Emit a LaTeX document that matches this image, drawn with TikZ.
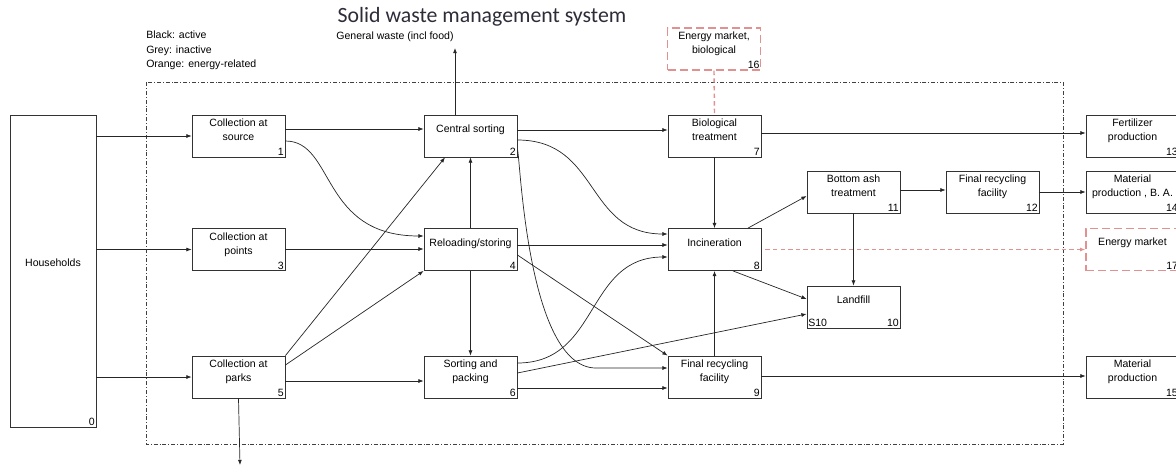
\documentclass[tikz,border=0pt]{standalone}
\usepackage{fontspec}
\setmainfont{Liberation Sans}
\newfontfamily\titlefont{Carlito}
\usetikzlibrary{arrows.meta}
\definecolor{enpink}{RGB}{226,145,145}
\definecolor{titlegray}{RGB}{45,45,58}
\newcommand\boxfont{\fontsize{7.5}{10}\selectfont}
\tikzset{
  box/.style={draw=black!80, line width=.6pt, minimum width=23.25mm, minimum height=10.5mm, inner sep=0pt},
  ebox/.style={box, draw=enpink, line width=1pt, dash pattern=on 2mm off 1mm},
  txt/.style={anchor=north, align=center, inner sep=1.2pt, yshift=-.6mm, font=\boxfont},
  num/.style={anchor=south east, inner sep=1pt, font=\boxfont},
  flow/.style={->, line width=.5pt, black!85},
  eflow/.style={line width=1pt, enpink, dash pattern=on 1.1mm off .8mm},
  frame/.style={line width=.5pt, black!75, dash pattern=on 1mm off .5mm on .2mm off .5mm},
}
\begin{document}
\begin{tikzpicture}[x=.25mm, y=-.25mm, >={Latex[length=1.3mm,width=1mm]}]
\useasboundingbox (0,0) rectangle (1176,468);

% system boundary
\draw[frame] (146,82) rectangle (1063,444);

\node[font=\titlefont\fontsize{15.5}{18}\selectfont, text=titlegray] (title) at (482,17) {Solid waste management system};
\node[anchor=north west, align=left, inner sep=0pt, font=\fontsize{7.5}{10.3}\selectfont] (legend) at (146,31)
  {Black: active\\Grey: inactive\\Orange: energy-related};
\node[font=\boxfont] (gwlbl) at (395,37) {General waste (incl food)};

% households
\node[box, minimum width=21.5mm, minimum height=78mm,
  label={[font=\boxfont, yshift=2mm]center:Households}, label={[num]south east:0}] (hh) at (53,271) {};

% collection
\node[box, label={[txt]north:Collection at\\source}, label={[num]south east:1}] (src) at (238.5,136) {};
\node[box, label={[txt]north:Collection at\\points}, label={[num]south east:3}] (pts) at (238.5,249.5) {};
\node[box, label={[txt]north:Collection at\\parks}, label={[num]south east:5}] (prk) at (238.5,377) {};

% sorting
\node[box, label={[txt, yshift=-1.5mm]north:Central sorting}, label={[num]south east:2}] (cs) at (470.5,136) {};
\node[box, label={[txt, yshift=-1.5mm]north:Reloading/storing}, label={[num]south east:4}] (rel) at (470.5,249.5) {};
\node[box, label={[txt]north:Sorting and\\packing}, label={[num]south east:6}] (sp) at (470.5,377) {};

% treatment
\node[box, label={[txt]north:Biological\\treatment}, label={[num]south east:7}] (bio) at (714.5,136) {};
\node[box, label={[txt, yshift=-1.5mm]north:Incineration}, label={[num]south east:8}] (inc) at (714.5,249.5) {};
\node[box, label={[txt]north:Final recycling\\facility}, label={[num]south east:9}] (frf) at (714.5,377) {};
\node[box, label={[txt]north:Bottom ash\\treatment}, label={[num]south east:11}] (bat) at (853.5,192) {};
\node[box, label={[txt, yshift=-1.5mm]north:Landfill}, label={[num]south east:10},
  label={[anchor=south west, inner sep=1pt, font=\boxfont]south west:S10}] (lf) at (853.5,307) {};
\node[box, label={[txt]north:Final recycling\\facility}, label={[num]south east:12}] (frf2) at (992.5,192) {};

% outside the system
\node[box, label={[txt]north:Fertilizer\\production}, label={[num]south east:13}] (fert) at (1132.5,136) {};
\node[box, label={[txt]north:Material\\production , B. A.}, label={[num]south east:14}] (matba) at (1132.5,192) {};
\node[ebox, label={[txt, yshift=-1.5mm]north:Energy market}, label={[num]south east:17}] (em) at (1132.5,249.5) {};
\node[box, label={[txt]north:Material\\production}, label={[num]south east:15}] (mat) at (1132.5,377) {};
\node[ebox, label={[txt]north:Energy market,\\biological}, label={[num]south east:16}] (emb) at (714,49) {};

\coordinate (gw) at (455,48);
\coordinate (down) at (240,465);

% flows
\draw[flow] (hh.east|-src.west) -- (src.west);
\draw[flow] (hh.east|-pts.west) -- (pts.west);
\draw[flow] (hh.east|-prk.west) -- (prk.west);
\draw[flow] (src.east|-0,129) -- (cs.west|-0,129);
\draw[flow] (src.east|-0,141) .. controls (335,141) and (320,236) .. (rel.west|-0,236);
\draw[flow] (pts.east|-0,249) -- (rel.west|-0,249);
\draw[flow] (prk.north east) -- (445,0|-cs.south);
\draw[flow] (prk.east|-0,365) -- (rel.south west);
\draw[flow] (prk.east|-0,381) -- (sp.west|-0,381);
\draw[flow] (prk.south) -- (down);
\draw[flow] (455,0|-cs.north) -- (gw);
\draw[flow] (rel.north) -- (cs.south);
\draw[flow] (rel.south) -- (sp.north);
\draw[flow] (cs.east|-0,130) -- (bio.west|-0,130);
\draw[flow] (cs.east|-0,140) .. controls (600,140) and (585,234) .. (inc.west|-0,234);
\draw[flow] (cs.east|-0,150) .. controls (520,150) and (526,368) .. (596,368) -- (frf.west|-0,368);
\draw[flow] (rel.east|-0,245) -- (inc.west|-0,245);
\draw[flow] (rel.east|-0,255) -- (frf.north west);
\draw[flow] (sp.east|-0,363) .. controls (600,363) and (585,257) .. (inc.west|-0,257);
\draw[flow] (sp.east|-0,373) -- (lf.west|-0,314);
\draw[flow] (sp.east|-0,388) -- (frf.west|-0,388);
\draw[flow] (bio.south) -- (inc.north);
\draw[flow] (frf.north) -- (inc.south);
\draw[flow] (bio.east|-0,133) -- (fert.west|-0,133);
\draw[flow] (frf.east|-0,376) -- (mat.west|-0,376);
\draw[flow] (748,0|-inc.north) -- (bat.west|-0,196);
\draw[flow] (733,0|-inc.south) -- (lf.west|-0,299);
\draw[flow] (bat.south) -- (lf.north);
\draw[flow] (bat.east|-0,190) -- (frf2.west|-0,190);
\draw[flow] (frf2.east|-0,192) -- (matba.west|-0,192);

% energy
\draw[eflow, ->, shorten <=1mm] (inc.east) -- (em.west);
\draw[eflow] (emb.south) -- (bio.north);
\end{tikzpicture}
\end{document}
